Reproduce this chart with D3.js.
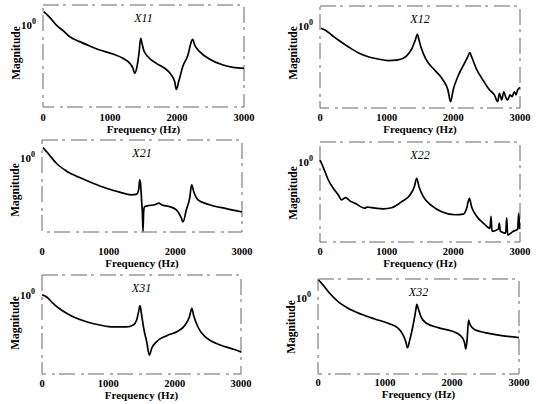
<!DOCTYPE html>
<html>
<head>
<meta charset="utf-8">
<script src="https://cdn.jsdelivr.net/npm/d3@7"></script>
<style>
  html, body { margin: 0; padding: 0; background: #fff; }
  svg { display: block; }
  text { font-family: "Liberation Serif", "DejaVu Serif", serif; fill: #000; }
</style>
</head>
<body>
<div id="chart"></div>
<script>
// frequency ticks shared by all panels
var freqTicks = [0, 1000, 2000, 3000];

// X11
var x11Freq = [10, 100, 199, 300, 398, 547, 697, 846, 1045, 1194, 1294, 1343, 1368, 1403, 1433, 1458, 1478, 1502, 1567, 1692, 1816, 1915, 1965, 1990, 2025, 2090, 2164, 2214, 2234, 2264, 2338, 2488, 2687, 2836, 3000];
var x11Mag = [2.17, 1.58, 1.02, 0.743, 0.53, 0.40, 0.313, 0.25, 0.199, 0.156, 0.118, 0.089, 0.067, 0.098, 0.209, 0.483, 0.363, 0.25, 0.17, 0.117, 0.089, 0.061, 0.042, 0.027, 0.042, 0.102, 0.188, 0.40, 0.457, 0.331, 0.227, 0.148, 0.107, 0.094, 0.089];

// X12
var x12Freq = [15, 75, 174, 274, 424, 573, 723, 872, 1022, 1171, 1296, 1380, 1430, 1460, 1485, 1520, 1595, 1719, 1844, 1918, 1958, 1998, 2068, 2168, 2217, 2247, 2277, 2342, 2442, 2541, 2616, 2666, 2691, 2726, 2756, 2791, 2816, 2850, 2880, 2915, 2940, 2965, 3000];
var x12Mag = [0.90, 0.817, 0.617, 0.465, 0.318, 0.227, 0.181, 0.159, 0.145, 0.151, 0.188, 0.29, 0.465, 0.64, 0.465, 0.29, 0.151, 0.085, 0.049, 0.028, 0.0143, 0.028, 0.059, 0.126, 0.181, 0.227, 0.175, 0.094, 0.049, 0.028, 0.021, 0.0143, 0.023, 0.0158, 0.025, 0.0175, 0.0158, 0.021, 0.019, 0.025, 0.021, 0.028, 0.032];

// X21
var x21Freq = [15, 90, 215, 365, 565, 765, 965, 1165, 1340, 1415, 1450, 1465, 1480, 1495, 1505, 1515, 1525, 1540, 1590, 1690, 1755, 1790, 1915, 2015, 2090, 2115, 2165, 2215, 2245, 2275, 2340, 2515, 2765, 3000];
var x21Mag = [1.96, 1.38, 0.738, 0.457, 0.302, 0.212, 0.155, 0.121, 0.102, 0.105, 0.14, 0.26, 0.19, 0.068, 0.036, 0.0105, 0.036, 0.049, 0.052, 0.055, 0.061, 0.055, 0.049, 0.040, 0.024, 0.0187, 0.040, 0.083, 0.19, 0.126, 0.075, 0.055, 0.043, 0.035];

// X22
var x22Freq = [0, 25, 75, 125, 200, 275, 325, 385, 450, 525, 675, 700, 825, 950, 1075, 1225, 1350, 1415, 1450, 1485, 1550, 1675, 1825, 2025, 2150, 2200, 2240, 2275, 2350, 2450, 2550, 2565, 2580, 2675, 2690, 2705, 2785, 2800, 2815, 2900, 2965, 2980, 2995];
var x22Mag = [1.11, 0.916, 0.569, 0.355, 0.219, 0.15, 0.113, 0.129, 0.106, 0.093, 0.070, 0.075, 0.070, 0.0676, 0.072, 0.102, 0.15, 0.242, 0.39, 0.242, 0.136, 0.081, 0.057, 0.048, 0.05, 0.070, 0.124, 0.075, 0.044, 0.0297, 0.022, 0.044, 0.0185, 0.021, 0.0297, 0.0185, 0.0166, 0.040, 0.015, 0.0185, 0.021, 0.052, 0.021];

// X31
var x31Freq = [0, 66, 166, 292, 469, 671, 872, 1074, 1276, 1376, 1427, 1457, 1477, 1502, 1538, 1578, 1618, 1654, 1729, 1881, 2032, 2158, 2223, 2259, 2284, 2360, 2486, 2687, 2889, 3000];
var x31Mag = [1.0, 0.895, 0.61, 0.413, 0.28, 0.209, 0.173, 0.154, 0.154, 0.173, 0.231, 0.375, 0.531, 0.309, 0.129, 0.066, 0.030, 0.0446, 0.066, 0.093, 0.117, 0.173, 0.28, 0.457, 0.309, 0.143, 0.080, 0.054, 0.042, 0.036];

// X32
var x32Freq = [10, 75, 174, 299, 448, 648, 847, 1046, 1196, 1271, 1310, 1335, 1370, 1420, 1460, 1475, 1495, 1535, 1619, 1794, 1993, 2118, 2183, 2207, 2227, 2247, 2272, 2342, 2492, 2741, 3000];
var x32Mag = [2.98, 2.2, 1.33, 0.80, 0.537, 0.372, 0.28, 0.216, 0.16, 0.106, 0.071, 0.049, 0.079, 0.195, 0.484, 0.682, 0.537, 0.323, 0.216, 0.166, 0.135, 0.106, 0.071, 0.046, 0.087, 0.264, 0.195, 0.145, 0.123, 0.102, 0.091];

var width = 538, height = 404;

// panel boxes (scanned figure, boxes are not perfectly aligned)
var panels = [
  {name: "X11", f: x11Freq, m: x11Mag, x: 43,  y: 5,   w: 201, h: 102, tickY: 121, labY: 133, magY: 53},
  {name: "X12", f: x12Freq, m: x12Mag, x: 320, y: 6,   w: 200, h: 102, tickY: 121, labY: 133, magY: 53},
  {name: "X21", f: x21Freq, m: x21Mag, x: 42,  y: 140, w: 200, h: 92,  tickY: 255, labY: 267, magY: 190},
  {name: "X22", f: x22Freq, m: x22Mag, x: 320, y: 142, w: 200, h: 100, tickY: 255, labY: 267, magY: 193},
  {name: "X31", f: x31Freq, m: x31Mag, x: 42,  y: 275, w: 199, h: 99,  tickY: 387, labY: 399, magY: 323},
  {name: "X32", f: x32Freq, m: x32Mag, x: 318, y: 279, w: 201, h: 95,  tickY: 386, labY: 398, magY: 327}
];

var svg = d3.select("#chart").append("svg")
    .attr("width", width)
    .attr("height", height);

panels.forEach(function (p) {
    var x = d3.scaleLinear()
        .domain([0, 3000])
        .range([p.x, p.x + p.w]);

    var y = d3.scaleLog()
        .domain([0.01, Math.pow(10, 0.5)])
        .range([p.y + p.h, p.y]);

    var g = svg.append("g");

    // broken frame like the scan
    g.append("rect")
        .attr("x", p.x)
        .attr("y", p.y)
        .attr("width", p.w)
        .attr("height", p.h)
        .attr("fill", "none")
        .attr("stroke", "#666")
        .attr("stroke-width", 1)
        .attr("stroke-dasharray", "16,4,3,6");

    var pts = p.f.map(function (d, i) { return [d, p.m[i]]; });

    var line = d3.line()
        .x(function (d) { return x(d[0]); })
        .y(function (d) { return y(Math.max(d[1], 0.0101)); })
        .curve(d3.curveMonotoneX);

    g.append("path")
        .datum(pts)
        .attr("fill", "none")
        .attr("stroke", "#000")
        .attr("stroke-width", 1.7)
        .attr("stroke-linejoin", "round")
        .attr("d", line);

    // title
    g.append("text")
        .attr("x", p.x + p.w / 2)
        .attr("y", p.y + 17)
        .attr("text-anchor", "middle")
        .style("font-style", "italic")
        .style("font-size", "12px")
        .text(p.name);

    // x tick labels
    g.selectAll(".tick")
        .data(freqTicks)
        .enter().append("text")
        .attr("x", function (d) { return x(d); })
        .attr("y", p.tickY)
        .attr("text-anchor", "middle")
        .style("font-weight", "bold")
        .style("font-size", "10.5px")
        .text(function (d) { return d; });

    g.append("text")
        .attr("x", p.x + p.w / 2)
        .attr("y", p.labY)
        .attr("text-anchor", "middle")
        .style("font-weight", "bold")
        .style("font-size", "11px")
        .text("Frequency (Hz)");

    // y label
    g.append("text")
        .attr("transform", "translate(" + (p.x - 23) + "," + p.magY + ") rotate(-90)")
        .attr("text-anchor", "middle")
        .style("font-weight", "bold")
        .style("font-size", "11.5px")
        .text("Magnitude");

    // 10^0 tick label
    var t = g.append("text")
        .attr("x", p.x - 7)
        .attr("y", y(1) + 4)
        .attr("text-anchor", "end")
        .style("font-weight", "bold")
        .style("font-size", "11px");
    t.append("tspan").text("10");
    t.append("tspan")
        .attr("dy", -5)
        .style("font-size", "8px")
        .text("0");
});
</script>
</body>
</html>
